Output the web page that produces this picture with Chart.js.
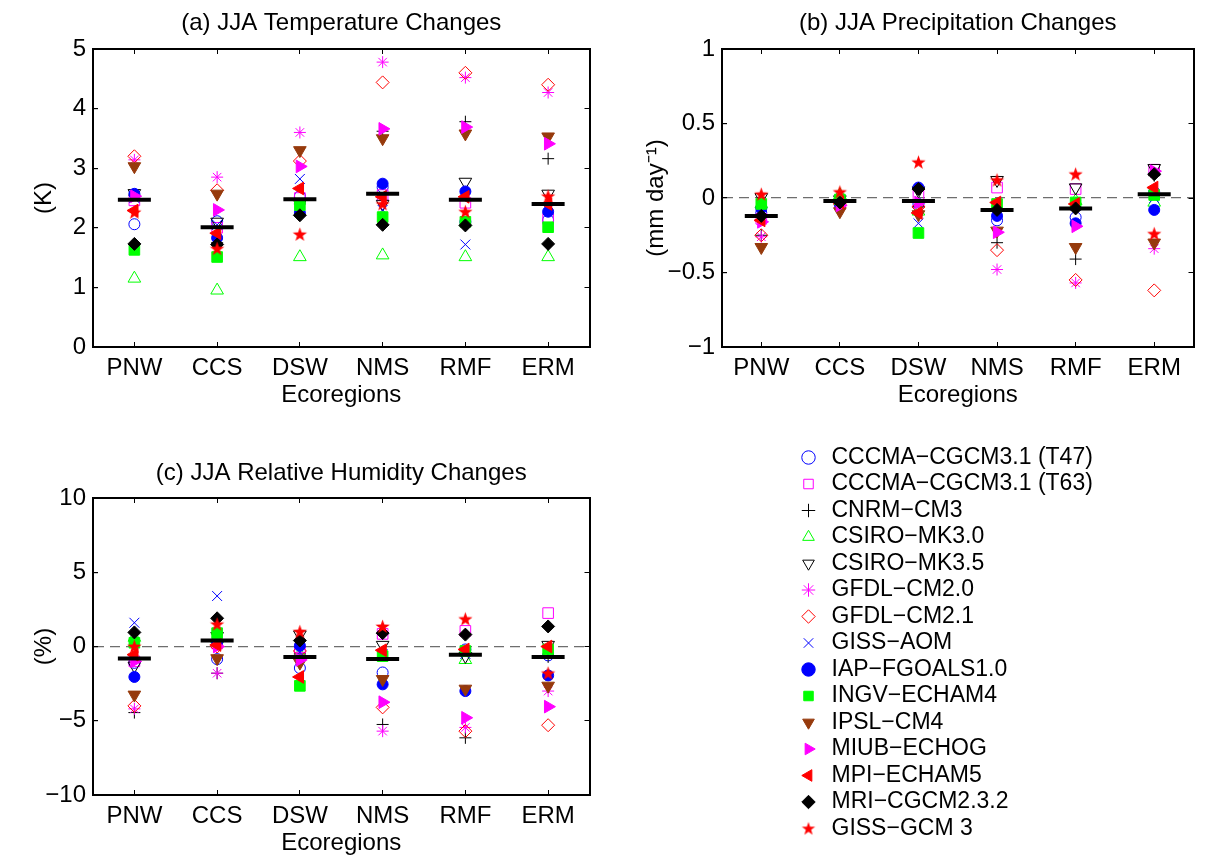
<!DOCTYPE html>
<html>
<head>
<meta charset="utf-8">
<title>JJA changes by ecoregion</title>
<script src="https://cdn.jsdelivr.net/npm/chart.js@4.4.1/dist/chart.umd.min.js"></script>
<style>
    html, body { margin: 0; padding: 0; background: #fff; }
    #page { position: relative; width: 1214px; height: 859px; overflow: hidden; }
    canvas { position: absolute; }
</style>
</head>
<body>
<div id="page">
    <canvas id="tempChart" width="610" height="420" style="left:0;top:0"></canvas>
    <canvas id="precChart" width="604" height="420" style="left:610px;top:0"></canvas>
    <canvas id="rhChart" width="610" height="410" style="left:0;top:449px"></canvas>
    <canvas id="legendChart" width="434" height="419" style="left:780px;top:440px"></canvas>
</div>
<script>
// Categories and models
const regions = ["PNW", "CCS", "DSW", "NMS", "RMF", "ERM"];
const models = [
    "CCCMA\u2212CGCM3.1 (T47)", "CCCMA\u2212CGCM3.1 (T63)", "CNRM\u2212CM3", "CSIRO\u2212MK3.0",
    "CSIRO\u2212MK3.5", "GFDL\u2212CM2.0", "GFDL\u2212CM2.1", "GISS\u2212AOM", "IAP\u2212FGOALS1.0",
    "INGV\u2212ECHAM4", "IPSL\u2212CM4", "MIUB\u2212ECHOG", "MPI\u2212ECHAM5", "MRI\u2212CGCM2.3.2",
    "GISS\u2212GCM 3"
];

// (a) JJA temperature change (K), one row per model, columns follow regions
const tempChange = [
    [2.06, 2.11, 2.53, 2.68, 2.10, 2.13],
    [2.46, 2.00, 2.50, 2.55, 2.42, 2.15],
    [2.55, 1.75, 2.40, 3.62, 3.78, 3.16],
    [1.15, 0.95, 1.51, 1.54, 1.51, 1.51],
    [2.58, 2.10, 2.40, 2.40, 2.77, 2.57],
    [3.14, 2.85, 3.60, 4.78, 4.52, 4.27],
    [3.20, 2.63, 3.12, 4.44, 4.60, 4.40],
    [2.50, 2.05, 2.82, 2.30, 1.72, 2.30],
    [2.57, 1.83, 2.25, 2.74, 2.61, 2.27],
    [1.63, 1.51, 2.38, 2.18, 2.10, 2.01],
    [3.03, 2.57, 3.30, 3.50, 3.58, 3.53],
    [2.53, 2.30, 3.03, 3.66, 3.69, 3.41],
    [2.29, 1.91, 2.66, 2.52, 2.52, 2.40],
    [1.73, 1.72, 2.21, 2.05, 2.04, 1.73],
    [2.26, 1.65, 1.89, 2.40, 2.27, 2.53]
];
const tempMean = [2.47, 2.01, 2.48, 2.57, 2.47, 2.40];

// (b) JJA precipitation change (mm/day)
const precipChange = [
    [-0.10, -0.03, -0.04, -0.15, -0.13, 0.04],
    [-0.14, -0.04, 0.02, 0.07, 0.06, 0.19],
    [-0.25, -0.02, -0.06, -0.30, -0.41, 0.15],
    [-0.04, 0.02, -0.09, -0.05, -0.02, -0.03],
    [0.005, -0.01, 0.05, 0.12, 0.07, 0.20],
    [-0.26, -0.05, -0.05, -0.48, -0.57, -0.34],
    [-0.25, -0.04, -0.06, -0.35, -0.55, -0.62],
    [-0.10, -0.03, -0.17, -0.10, -0.05, 0.00],
    [-0.07, -0.04, 0.07, -0.12, -0.17, -0.08],
    [-0.04, -0.01, -0.235, -0.04, -0.03, 0.02],
    [-0.33, -0.09, -0.11, -0.22, -0.33, -0.30],
    [-0.16, -0.05, -0.03, -0.23, -0.19, 0.18],
    [-0.15, -0.03, -0.10, -0.03, -0.04, 0.07],
    [-0.12, -0.03, 0.06, -0.08, -0.07, 0.16],
    [0.025, 0.04, 0.24, 0.12, 0.16, -0.24]
];
const precipMean = [-0.12, -0.02, -0.02, -0.08, -0.07, 0.025];

// (c) JJA relative humidity change (%)
const rhChange = [
    [-1.1, -0.85, -1.45, -1.75, -0.2, -0.6],
    [-1.0, 0.2, -0.3, 0.85, 1.05, 2.25],
    [-4.45, -1.8, -0.5, -5.25, -6.15, -0.7],
    [0.6, 0.5, -0.5, -0.65, -0.9, -0.55],
    [-1.3, 0.7, 0.8, 0.1, -0.65, 0.1],
    [-4.2, -1.8, -0.4, -5.7, -5.45, -3.0],
    [-4.0, 0.0, -0.3, -4.1, -5.7, -5.3],
    [1.6, 3.4, -0.4, -0.5, -0.5, -0.5],
    [-2.05, 0.3, 0.05, -2.55, -3.0, -1.95],
    [0.25, 0.9, -2.65, -0.65, -0.3, -0.2],
    [-3.25, -0.8, -1.1, -2.2, -2.85, -2.65],
    [-1.0, 0.0, -0.9, -3.75, -4.8, -4.05],
    [-0.55, 0.1, -2.05, -0.25, -0.2, 0.0],
    [0.95, 1.9, 0.4, 0.9, 0.8, 1.35],
    [0.0, 1.5, 1.0, 1.35, 1.85, -1.8]
];
const rhMean = [-0.8, 0.4, -0.7, -0.85, -0.55, -0.7];

// Axis ranges: [min, max, step]
const tempAxis = [0, 5, 1];
const precipAxis = [-1, 1, 0.5];
const rhAxis = [-10, 10, 5];

const BLUE = "#0000ff", MAGENTA = "#ff00ff", BLACK = "#000000";
const GREEN = "#00ff00", RED = "#ff0000", BROWN = "#963a0c";
const FONT = "'Liberation Sans', Arial, Helvetica, sans-serif";

Chart.defaults.font.family = FONT;
Chart.defaults.font.size = 24;
Chart.defaults.color = "#000";

// MATLAB-like pentagram marker
function makeStar(r, color) {
    const c = document.createElement("canvas");
    const s = Math.ceil(r * 2 + 2);
    c.width = s;
    c.height = s;
    const g = c.getContext("2d");
    g.fillStyle = color;
    g.beginPath();
    for (let i = 0; i < 10; i++) {
        const rad = i % 2 ? r * 0.4 : r;
        const a = -Math.PI / 2 + i * Math.PI / 5;
        g.lineTo(s / 2 + rad * Math.cos(a), s / 2 + rad * Math.sin(a) + 0.5);
    }
    g.closePath();
    g.fill();
    return c;
}
const starBig = makeStar(7.5, RED);
const starSmall = makeStar(7, RED);

const markers = [
    { style: "circle", color: BLUE, fill: false, radius: 5.5, rotation: 0 },
    { style: "rect", color: MAGENTA, fill: false, radius: 7.5, rotation: 0 },
    { style: "cross", color: BLACK, fill: false, radius: 6, rotation: 0 },
    { style: "triangle", color: GREEN, fill: false, radius: 7.3, rotation: 0 },
    { style: "triangle", color: BLACK, fill: false, radius: 7.3, rotation: 180 },
    { style: "star", color: MAGENTA, fill: false, radius: 6, rotation: 0 },
    { style: "rectRot", color: RED, fill: false, radius: 6.5, rotation: 0 },
    { style: "crossRot", color: BLUE, fill: false, radius: 7, rotation: 0 },
    { style: "circle", color: BLUE, fill: true, radius: 5.5, rotation: 0 },
    { style: "rect", color: GREEN, fill: true, radius: 7.5, rotation: 0 },
    { style: "triangle", color: BROWN, fill: true, radius: 7.3, rotation: 180 },
    { style: "triangle", color: MAGENTA, fill: true, radius: 7.3, rotation: 90 },
    { style: "triangle", color: RED, fill: true, radius: 7.3, rotation: -90 },
    { style: "rectRot", color: BLACK, fill: true, radius: 6.5, rotation: 0 },
    { style: "pentagram", color: RED, fill: true, radius: 7.5, rotation: 0 }
];

function modelDatasets(values, means, star) {
    const sets = models.map((name, i) => {
        const m = markers[i];
        const face = m.fill ? m.color : "rgba(0,0,0,0)";
        return {
            label: name,
            data: values ? values[i] : [],
            showLine: false,
            pointStyle: m.style === "pentagram" ? star : m.style,
            pointRadius: m.radius,
            pointHoverRadius: m.radius,
            pointRotation: m.rotation,
            pointBorderColor: m.color,
            pointBackgroundColor: face,
            pointBorderWidth: 1,
            borderColor: m.color,
            backgroundColor: face,
            order: values ? models.length - i : 0
        };
    });
    if (means) {
        sets.push({
            label: "Ensemble mean",
            data: means,
            showLine: false,
            pointStyle: "line",
            pointRadius: 16.5,
            pointHoverRadius: 16.5,
            pointBorderWidth: 4,
            pointBorderColor: BLACK,
            borderColor: BLACK,
            order: -1
        });
    }
    return sets;
}

function tickText(v) {
    return v < 0 ? "\u2212" + Math.abs(v) : String(v);
}

// One scatter panel with a MATLAB style box and inward ticks
function drawPanel(canvasId, p) {
    const ctx = document.getElementById(canvasId).getContext("2d");
    const tickGrid = { drawOnChartArea: false, tickLength: -5, tickColor: BLACK, lineWidth: 1 };
    const box = { display: true, color: BLACK, width: 2 };
    return new Chart(ctx, {
        type: "line",
        data: { labels: regions, datasets: modelDatasets(p.values, p.means, starBig) },
        options: {
            responsive: false,
            animation: false,
            events: [],
            layout: { padding: 0 },
            plugins: {
                legend: { display: false },
                tooltip: { enabled: false },
                title: {
                    display: true,
                    text: p.title,
                    fullSize: false,
                    color: BLACK,
                    font: { size: 24, weight: "normal" },
                    padding: p.titlePadding
                }
            },
            scales: {
                x: {
                    type: "category",
                    position: "bottom",
                    offset: true,
                    grid: Object.assign({ offset: false }, tickGrid),
                    border: box,
                    ticks: { padding: 12, color: BLACK, autoSkip: false, maxRotation: 0 },
                    title: { display: true, text: "Ecoregions", color: BLACK, padding: { top: 0, bottom: p.xTitleBottom } },
                    afterFit: s => { s.height = p.bottomHeight; }
                },
                x2: {
                    type: "category",
                    position: "top",
                    offset: true,
                    labels: regions,
                    grid: Object.assign({ offset: false }, tickGrid),
                    border: box,
                    ticks: { display: false },
                    afterFit: s => { s.height = 0; }
                },
                y: {
                    type: "linear",
                    position: "left",
                    min: p.axis[0],
                    max: p.axis[1],
                    ticks: { stepSize: p.axis[2], padding: 12, color: BLACK, callback: tickText },
                    grid: {
                        drawOnChartArea: p.zeroLine,
                        color: c => (c.tick && c.tick.value === 0) ? "#6e6e6e" : "rgba(0,0,0,0)",
                        tickColor: BLACK,
                        tickLength: -5,
                        lineWidth: 1.2
                    },
                    border: { display: true, color: BLACK, width: 2, dash: [10, 6] },
                    title: { display: true, text: p.yTitle, color: BLACK, padding: { top: p.yTitleTop, bottom: 0 } },
                    afterFit: s => { s.width = p.leftWidth; }
                },
                y2: {
                    type: "linear",
                    position: "right",
                    min: p.axis[0],
                    max: p.axis[1],
                    ticks: { display: false, stepSize: p.axis[2] },
                    grid: tickGrid,
                    border: box,
                    afterFit: s => { s.width = p.rightWidth; }
                }
            }
        }
    });
}

// Shared legend on its own canvas
function drawLegend() {
    const ctx = document.getElementById("legendChart").getContext("2d");
    new Chart(ctx, {
        type: "line",
        data: { labels: [], datasets: modelDatasets(null, null, starSmall) },
        options: {
            responsive: false,
            animation: false,
            events: [],
            layout: { padding: { left: 13.5, top: 2.5, right: 0, bottom: 0 } },
            scales: { x: { display: false }, y: { display: false } },
            plugins: {
                tooltip: { enabled: false },
                title: { display: false },
                legend: {
                    display: true,
                    position: "left",
                    align: "start",
                    maxWidth: 430,
                    labels: {
                        usePointStyle: true,
                        boxHeight: 9.5,
                        padding: 3.5,
                        color: BLACK,
                        font: { size: 23 }
                    }
                }
            }
        }
    });
}

document.addEventListener("DOMContentLoaded", () => {
    drawPanel("tempChart", {
        title: "(a) JJA Temperature Changes",
        yTitle: "(K)",
        values: tempChange,
        means: tempMean,
        axis: tempAxis,
        zeroLine: false,
        leftWidth: 93,
        rightWidth: 12,
        bottomHeight: 73,
        titlePadding: { top: 9.1, bottom: 11.1 },
        yTitleTop: 29.6,
        xTitleBottom: 10.1
    });
    drawPanel("precChart", {
        title: "(b) JJA Precipitation Changes",
        yTitle: "(mm day\u207B\u00B9)",
        values: precipChange,
        means: precipMean,
        axis: precipAxis,
        zeroLine: true,
        leftWidth: 112,
        rightWidth: 2,
        bottomHeight: 73,
        titlePadding: { top: 9.1, bottom: 11.1 },
        yTitleTop: 31.6,
        xTitleBottom: 10.1
    });
    drawPanel("rhChart", {
        title: "(c) JJA Relative Humidity Changes",
        yTitle: "(%)",
        values: rhChange,
        means: rhMean,
        axis: rhAxis,
        zeroLine: true,
        leftWidth: 93,
        rightWidth: 12,
        bottomHeight: 64,
        titlePadding: { top: 9.6, bottom: 10.6 },
        yTitleTop: 29.6,
        xTitleBottom: 1.1
    });
    drawLegend();
});
</script>
</body>
</html>
